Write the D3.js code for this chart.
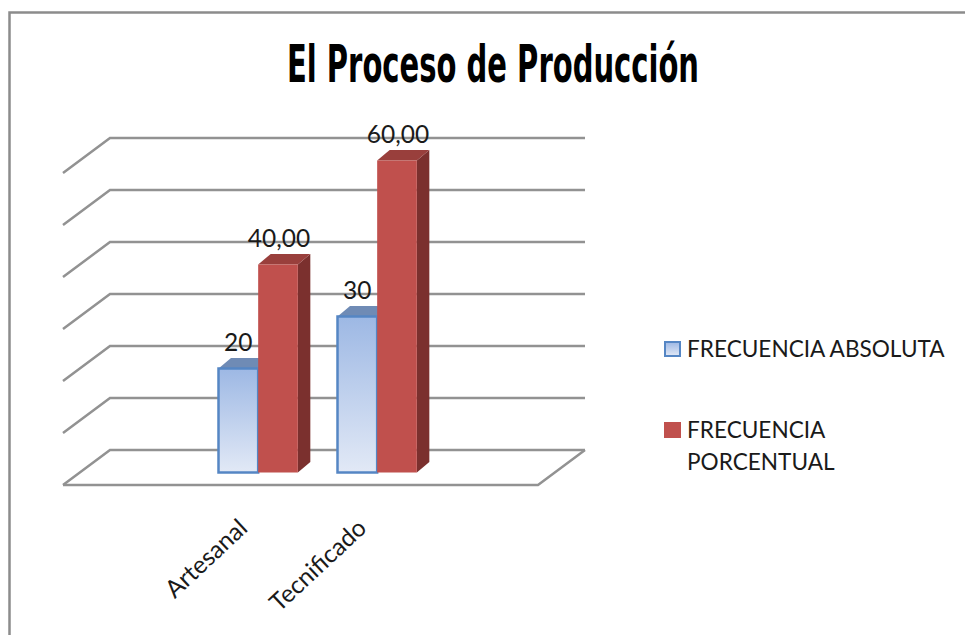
<!DOCTYPE html>
<html>
<head>
<meta charset="utf-8">
<script src="https://cdnjs.cloudflare.com/ajax/libs/d3/7.8.5/d3.min.js"></script>
<style>
  body { margin: 0; background: #fff; }
  svg { display: block; }
</style>
</head>
<body>
<div id="chart"></div>
<script>
const categories = ["Artesanal", "Tecnificado"]
const seriesNames = ["FRECUENCIA ABSOLUTA", "FRECUENCIA PORCENTUAL"]
const absoluta = [20, 30]
const porcentual = [40, 60]
const valueLabels = [["20", "30"], ["40,00", "60,00"]]
const gridTicks = [0, 10, 20, 30, 40, 50, 60]

const w = 965, h = 635
const depthX = 47, depthY = 35      // floor depth
const barDepthX = 12.5, barDepthY = 10.5 // bar depth

let svg = d3.select("#chart").append("svg")
            .attr("width", w)
            .attr("height", h)

let defs = svg.append("defs")
let grad = defs.append("linearGradient")
               .attr("id", "blueFill")
               .attr("x1", 0).attr("y1", 0).attr("x2", 0).attr("y2", 1)
grad.append("stop").attr("offset", "0%").attr("stop-color", "#9db8e4")
grad.append("stop").attr("offset", "100%").attr("stop-color", "#e2e9f6")

// frame, the picture is cut off on the right and bottom
svg.append("path")
   .attr("d", `M9.5,${h} V12.5 H${w}`)
   .attr("fill", "none")
   .attr("stroke", "#8c8c8c")
   .attr("stroke-width", 2.5)

svg.append("text")
   .attr("x", 493).attr("y", 82)
   .attr("text-anchor", "middle")
   .attr("font-family", "'Liberation Sans Narrow', 'DejaVu Sans Condensed', sans-serif")
   .attr("font-weight", "bold")
   .attr("font-size", 52)
   .attr("textLength", 412)
   .attr("lengthAdjust", "spacingAndGlyphs")
   .attr("fill", "#000")
   .text("El Proceso de Producción")

// front plane scales
let xScale = d3.scaleBand(categories, [218.5, 456.5])
let xSeries = d3.scaleBand([0, 1], [0, xScale.bandwidth() * 2 / 3])
let yScale = d3.scaleLinear([0, 60], [485, 173])

const floorL = 63, floorR = 538

let grid = svg.append("g")
              .attr("fill", "none")
              .attr("stroke", "#929292")
              .attr("stroke-width", 2.5)

for (let t of gridTicks) {
  let y = yScale(t)
  grid.append("path")
      .attr("d", `M${floorL},${y} L${floorL + depthX},${y - depthY} H${floorR + depthX}`)
}
// floor front and right edges
grid.append("path")
    .attr("d", `M${floorL},${yScale(0)} H${floorR} L${floorR + depthX},${yScale(0) - depthY}`)

// bars
const barBase = yScale(0) - 12.5
const barH = v => yScale(0) - yScale(v)
const seriesValues = [absoluta, porcentual]

// 0 -> blue, 1 -> red
const faces = [
  { front: "url(#blueFill)", top: "#6f8bb5", side: "#5d7aa5", stroke: "#5586c4" },
  { front: "#c0504d", top: "#993f3c", side: "#7b302e", stroke: "#c0504d" }
]

let bars = svg.append("g")
categories.forEach((cat, c) => {
  seriesValues.forEach((vals, s) => {
    let x0 = xScale(cat) + xSeries(s)
    let bw = xSeries.bandwidth()
    let top = barBase - barH(vals[c])
    let f = faces[s]
    let g = bars.append("g")
    // side
    g.append("path")
     .attr("d", `M${x0 + bw},${top} l${barDepthX},${-barDepthY} V${barBase - barDepthY} l${-barDepthX},${barDepthY} Z`)
     .attr("fill", f.side)
    // top
    g.append("path")
     .attr("d", `M${x0},${top} l${barDepthX},${-barDepthY} h${bw} l${-barDepthX},${barDepthY} Z`)
     .attr("fill", f.top)
    // front
    g.append("rect")
     .attr("x", x0).attr("y", top)
     .attr("width", bw).attr("height", barH(vals[c]))
     .attr("fill", f.front)
     .attr("stroke", s == 0 ? f.stroke : "none")
     .attr("stroke-width", 2.5)
    // value label
    g.append("text")
     .attr("x", x0 + bw / 2 + (s == 0 ? 0 : 1))
     .attr("y", top - 18)
     .attr("text-anchor", "middle")
     .attr("font-family", "Lato, 'Open Sans', sans-serif")
     .attr("font-size", 24.5)
     .attr("fill", "#1a1a1a")
     .text(valueLabels[s][c])
  })
})

// category labels
let catGroup = svg.append("g")
categories.forEach(cat => {
  let cx = xScale(cat) + xScale.bandwidth() / 2
  catGroup.append("text")
     .attr("transform", `translate(${cx - 29},530) rotate(-43)`)
     .attr("text-anchor", "end")
     .attr("font-family", "Lato, 'Open Sans', sans-serif")
     .attr("font-size", 24.5)
     .attr("fill", "#1a1a1a")
     .text(cat)
})

// legend
let legend = svg.append("g")
   .attr("font-family", "Lato, 'Open Sans', sans-serif")
   .attr("font-size", 22.6)
   .attr("fill", "#1a1a1a")

legend.append("rect")
      .attr("x", 665).attr("y", 342).attr("width", 15).attr("height", 14)
      .attr("fill", "url(#blueFill)").attr("stroke", "#5586c4").attr("stroke-width", 2)
legend.append("text").attr("x", 687).attr("y", 357).text(seriesNames[0])

legend.append("rect")
      .attr("x", 664).attr("y", 422).attr("width", 17).attr("height", 16)
      .attr("fill", "#c0504d")
let parts = seriesNames[1].split(" ")
legend.append("text").attr("x", 687).attr("y", 438).text(parts[0])
legend.append("text").attr("x", 687).attr("y", 470).text(parts[1])
</script>
</body>
</html>
